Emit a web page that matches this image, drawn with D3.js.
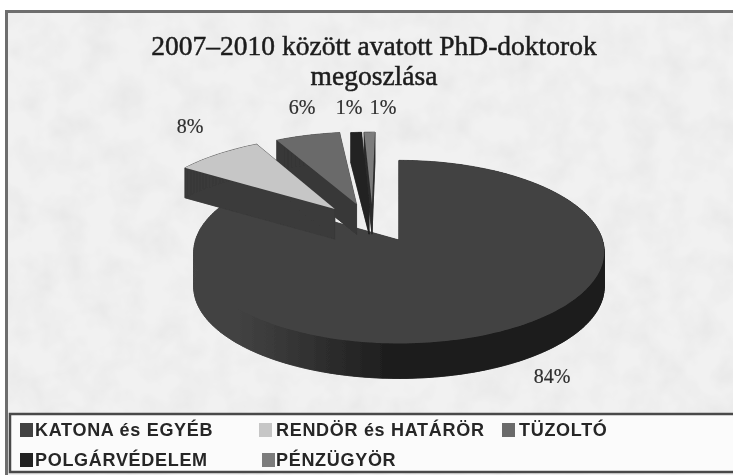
<!DOCTYPE html>
<html>
<head>
<meta charset="utf-8">
<script src="https://cdn.jsdelivr.net/npm/d3@7"></script>
<style>
    html, body { margin: 0; padding: 0; background: #fff; }
    svg { display: block; }
</style>
</head>
<body>
<div id="chart"></div>
<script>
// Chart data
const titleLines = ["2007–2010 között avatott PhD-doktorok", "megoszlása"];
const categories = ["KATONA és EGYÉB", "RENDÖR és HATÁRÖR", "TÜZOLTÓ", "POLGÁRVÉDELEM", "PÉNZÜGYÖR"];
const percents = [84, 8, 6, 1, 1];

// Styling, same order as categories
const topColors = ["#434343", "#c6c6c6", "#6b6b6b", "#242424", "#7c7c7c"];
const wallColors = ["url(#rim)", "#3a3a3a", "#383838", "#242424", "#2c2c2c"];
// how far each slice is pulled out, in pie radii (ground plane)
const explode = [[0, 0], [-0.33, -0.36], [-0.22, -0.42], [-0.155, -0.42], [-0.14, -0.42]];
const depths = [35, 30, 30, 30, 30];
const labelPos = [[552, 376], [190, 126], [302, 107], [349, 107], [383, 107]];
const swatchX = [20, 259, 502, 20, 262];
const labelX = [35, 276, 519, 35, 276];
const rowY = [430, 430, 430, 460, 460];

const width = 733, height = 475;
const k = 0.13;

const svg = d3.select("#chart").append("svg")
    .attr("width", width)
    .attr("height", height);

const defs = svg.append("defs");

// mottled paper look of the scanned background
const paper = defs.append("filter").attr("id", "paper")
    .attr("x", 0).attr("y", 0).attr("width", 1).attr("height", 1);
paper.append("feTurbulence")
    .attr("type", "fractalNoise")
    .attr("baseFrequency", 0.035)
    .attr("numOctaves", 3)
    .attr("seed", 4);
paper.append("feColorMatrix")
    .attr("type", "matrix")
    .attr("values", "0 0 0 0 0.5  0 0 0 0 0.5  0 0 0 0 0.5  0.35 0 0 0 -0.13");
paper.append("feComposite").attr("in2", "SourceGraphic").attr("operator", "over");

const soft = defs.append("filter").attr("id", "soft")
    .attr("x", "-5%").attr("y", "-5%").attr("width", "110%").attr("height", "110%");
soft.append("feGaussianBlur").attr("stdDeviation", 0.7);

// rim fades out towards the left, dark at the front right
const rim = defs.append("linearGradient").attr("id", "rim")
    .attr("gradientUnits", "userSpaceOnUse")
    .attr("x1", 235).attr("x2", 400).attr("y1", 0).attr("y2", 0);
rim.append("stop").attr("offset", 0).attr("stop-color", "#434343");
rim.append("stop").attr("offset", 1).attr("stop-color", "#1b1b1b");

const root = svg.append("g").attr("filter", "url(#soft)");

// Frame and background
root.append("rect")
    .attr("x", 6).attr("y", 12)
    .attr("width", 740).attr("height", 470)
    .attr("fill", "#f1f1f1")
    .attr("filter", "url(#paper)");
root.append("path")
    .attr("d", "M6.5,475V11.5H733")
    .attr("fill", "none")
    .attr("stroke", "#6e6e6e")
    .attr("stroke-width", 3);

// Title
root.selectAll(".title")
    .data(titleLines)
    .enter()
    .append("text")
    .attr("class", "title")
    .attr("x", 374)
    .attr("y", (d, i) => 55 + i * 30)
    .attr("text-anchor", "middle")
    .attr("font-family", "'Liberation Serif', serif")
    .attr("font-size", 27.5)
    .attr("fill", "#1c1c1c")
    .attr("stroke", "#1c1c1c")
    .attr("stroke-width", 0.5)
    .text(d => d);

// Pie, projected with a bit of perspective like the spreadsheet 3D pie
const xScale = d3.scaleLinear().domain([-1, 1]).range([399 - 203.5, 399 + 203.5]);
const yScale = d3.scaleLinear().domain([-1, 1]).range([240 - 90, 240 + 90]);

function project(gx, gy) {
    const w = 1 - k * gy;
    return [xScale(gx / w), yScale(gy / w)];
}

const pie = d3.pie().sort(null).value(d => d);
const arcs = pie(percents);

function slicePoints(a, i) {
    const [ex, ey] = explode[i];
    const n = Math.max(4, Math.ceil((a.endAngle - a.startAngle) * 40));
    const pts = [project(ex, ey)];
    d3.range(n + 1).forEach(j => {
        const t = a.startAngle + (a.endAngle - a.startAngle) * j / n;
        pts.push(project(ex + Math.sin(t), ey - Math.cos(t)));
    });
    return pts;
}

const line = d3.line().curve(d3.curveLinearClosed);

// Drawing order: main slice first, then pulled-out slices back to front
const order = [0, 4, 3, 2, 1];
order.forEach(i => {
    const pts = slicePoints(arcs[i], i);
    const depth = depths[i];
    const g = root.append("g").attr("class", "slice");
    const down = pts.map(p => [p[0], p[1] + depth]);
    g.append("path")
        .attr("d", line(down))
        .attr("fill", wallColors[i])
        .attr("stroke", wallColors[i])
        .attr("stroke-width", 0.6);
    pts.forEach((p, j) => {
        const q = pts[(j + 1) % pts.length];
        g.append("path")
            .attr("d", line([p, q, [q[0], q[1] + depth], [p[0], p[1] + depth]]))
            .attr("fill", wallColors[i])
            .attr("stroke", wallColors[i])
            .attr("stroke-width", 0.6);
    });
    g.append("path")
        .attr("d", line(pts))
        .attr("fill", topColors[i]);
});

// Percent labels
root.selectAll(".pct")
    .data(percents)
    .enter()
    .append("text")
    .attr("class", "pct")
    .attr("x", (d, i) => labelPos[i][0])
    .attr("y", (d, i) => labelPos[i][1])
    .attr("text-anchor", "middle")
    .attr("dominant-baseline", "central")
    .attr("font-family", "'Liberation Serif', serif")
    .attr("font-size", 20)
    .attr("fill", "#2e2e2e")
    .attr("stroke", "#2e2e2e")
    .attr("stroke-width", 0.2)
    .text(d => d + "%");

// Legend box
root.append("rect")
    .attr("x", 10).attr("y", 414)
    .attr("width", 730).attr("height", 58)
    .attr("fill", "#fbfbfb")
    .attr("stroke", "#4a4a4a")
    .attr("stroke-width", 2.5);

const legend = root.selectAll(".legend-item")
    .data(categories)
    .enter()
    .append("g")
    .attr("class", "legend-item");

legend.append("rect")
    .attr("x", (d, i) => swatchX[i])
    .attr("y", (d, i) => rowY[i] - 7)
    .attr("width", 13).attr("height", 14)
    .attr("fill", (d, i) => topColors[i]);

legend.append("text")
    .attr("x", (d, i) => labelX[i])
    .attr("y", (d, i) => rowY[i])
    .attr("dominant-baseline", "central")
    .attr("font-family", "'Liberation Sans', sans-serif")
    .attr("font-weight", "bold")
    .attr("font-size", 18)
    .attr("letter-spacing", 0.7)
    .attr("fill", "#262626")
    .text(d => d);
</script>
</body>
</html>
